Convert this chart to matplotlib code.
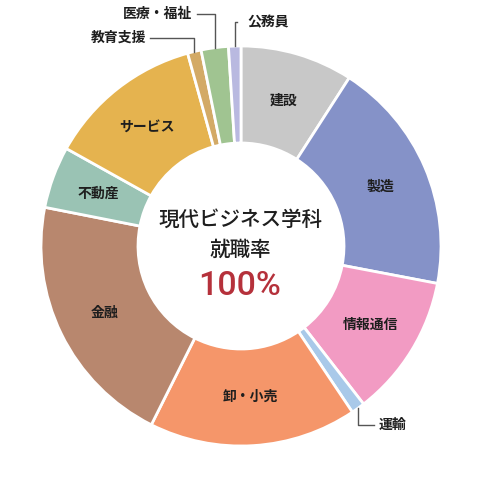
import numpy as np
import matplotlib
matplotlib.use('Agg')
import matplotlib.pyplot as plt

plt.rcParams['font.family'] = ['Noto Sans CJK JP', 'DejaVu Sans']

# 業種別の就職割合 (%), 12時から時計回り
labels = ['建設', '製造', '情報通信', '運輸', '卸・小売', '金融', '不動産',
          'サービス', '教育支援', '医療・福祉', '公務員']
shares = [9.1, 18.9, 11.5, 1.1, 16.8, 20.7, 5.0, 12.6, 1.1, 2.2, 1.0]
colors = ['#c8c8c8', '#8592c8', '#f29bc3', '#a9c9e9', '#f5966a', '#b8876e',
          '#9ac3b4', '#e5b34f', '#d3aa66', '#a0c491', '#b9b9e0']
outside = ['運輸', '教育支援', '医療・福祉', '公務員']

W = 501
cx, cy, R = 241, W - 246, 200
inner = 103

fig = plt.figure(figsize=(5.01, 5.01), dpi=100)
ax = fig.add_axes([0, 0, 1, 1])
ax.axis('off')

wedges, _ = ax.pie(shares, colors=colors, startangle=90, counterclock=False,
                   center=(cx, cy), radius=R,
                   wedgeprops=dict(width=R - inner, edgecolor='white', linewidth=2))
ax.set_xlim(0, W)
ax.set_ylim(0, W)

rmid = (R + inner) / 2
for w, lab in zip(wedges, labels):
    if lab in outside:
        continue
    a = np.deg2rad((w.theta1 + w.theta2) / 2)
    ax.text(cx + rmid * np.cos(a), cy + rmid * np.sin(a), lab,
            ha='center', va='center', fontsize=10, fontweight='bold', color='#1e1e1e')

# 引き出し線: ラベル -> (折れる高さ, 横線の端, 文字の位置, 揃え)
callouts = {
    '公務員': (W - 22, 237, 247, 'left'),
    '医療・福祉': (W - 14, 197, 192, 'right'),
    '教育支援': (W - 38, 150, 146, 'right'),
    '運輸': (W - 425, 374, 379, 'left'),
}
for w, lab in zip(wedges, labels):
    if lab not in callouts:
        continue
    ky, kx, tx, ha = callouts[lab]
    a = np.deg2rad((w.theta1 + w.theta2) / 2)
    sx, sy = cx + R * np.cos(a), cy + R * np.sin(a)
    ax.plot([sx, sx, kx], [sy, ky, ky], color='#555555', lw=1)
    ax.text(tx, ky, lab, ha=ha, va='center', fontsize=10, fontweight='bold',
            color='#1e1e1e')

ax.text(cx - 1, W - 220, '現代ビジネス学科', ha='center', va='center',
        fontsize=14.8, fontweight='medium', color='#1e1e1e')
ax.text(cx - 1, W - 250, '就職率', ha='center', va='center',
        fontsize=14.8, fontweight='medium', color='#1e1e1e')
ax.text(cx - 1, W - 286, '100%', ha='center', va='center',
        fontsize=24.5, fontweight='medium', color='#b5313b',
        family=['Roboto', 'DejaVu Sans'])

fig.savefig('out.png', dpi=100)
